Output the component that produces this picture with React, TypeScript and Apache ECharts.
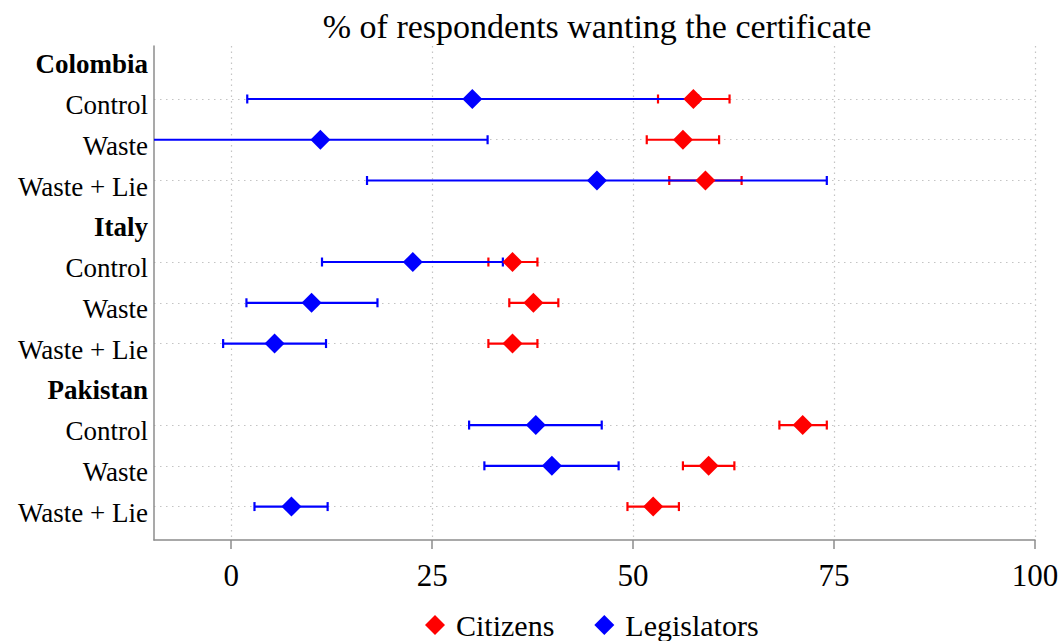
import React, { useEffect, useRef } from "react";
import * as echarts from "echarts";

// Row labels, top to bottom (country headers + treatment arms)
const rowLabels = [
  "Colombia", "Control", "Waste", "Waste + Lie",
  "Italy", "Control", "Waste", "Waste + Lie",
  "Pakistan", "Control", "Waste", "Waste + Lie",
];
const headerRows = [0, 4, 8];
const itemRows = [1, 2, 3, 5, 6, 7, 9, 10, 11];

// Citizens: point estimate and 95% CI bounds (per item row)
const citizensMean = [57.5, 56.2, 59.0, 35.0, 37.6, 35.0, 71.1, 59.4, 52.5];
const citizensLow = [53.1, 51.7, 54.5, 32.0, 34.6, 32.0, 68.2, 56.2, 49.3];
const citizensHigh = [62.0, 60.7, 63.5, 38.1, 40.7, 38.1, 74.1, 62.6, 55.7];

// Legislators: point estimate and 95% CI bounds (per item row)
const legislatorsMean = [30.0, 11.1, 45.5, 22.6, 10.0, 5.4, 37.9, 39.9, 7.5];
const legislatorsLow = [2.0, -9.9, 16.9, 11.3, 1.9, -1.0, 29.6, 31.5, 2.9];
const legislatorsHigh = [58.1, 31.9, 74.1, 33.8, 18.2, 11.8, 46.1, 48.2, 12.0];

const xTicks = [0, 25, 50, 75, 100];

const FONT = "'Liberation Serif', 'DejaVu Serif', serif";
const RED = "#ff0000";
const BLUE = "#0000ff";

function errorBarSeries(name: string, color: string, low: number[], high: number[]) {
  const data = itemRows.map((r, i) => [low[i], high[i], r]);
  return {
    name: name + " CI",
    type: "custom",
    data,
    encode: { x: [0, 1], y: 2 },
    renderItem: (params: any, api: any) => {
      const y = api.value(2);
      const p0 = api.coord([api.value(0), y]);
      const p1 = api.coord([api.value(1), y]);
      const left = params.coordSys.x;
      const right = params.coordSys.x + params.coordSys.width;
      const capH = 4.5;
      const children: any[] = [];
      const x0 = Math.max(p0[0], left);
      const x1 = Math.min(p1[0], right);
      children.push({
        type: "line",
        shape: { x1: x0, y1: p0[1], x2: x1, y2: p1[1] },
        style: { stroke: color, lineWidth: 2.2 },
      });
      if (p0[0] >= left) {
        children.push({
          type: "line",
          shape: { x1: p0[0], y1: p0[1] - capH, x2: p0[0], y2: p0[1] + capH },
          style: { stroke: color, lineWidth: 2.2 },
        });
      }
      if (p1[0] <= right) {
        children.push({
          type: "line",
          shape: { x1: p1[0], y1: p1[1] - capH, x2: p1[0], y2: p1[1] + capH },
          style: { stroke: color, lineWidth: 2.2 },
        });
      }
      return { type: "group", children };
    },
    silent: true,
    z: 2,
  };
}

function pointSeries(name: string, color: string, mean: number[]) {
  return {
    name,
    type: "scatter",
    data: itemRows.map((r, i) => [mean[i], r]),
    symbol: "diamond",
    symbolSize: [20, 20],
    itemStyle: { color, opacity: 1 },
    z: 3,
  };
}

export default function App() {
  const ref = useRef<HTMLDivElement>(null);

  useEffect(() => {
    if (!ref.current) return;
    const chart = echarts.init(ref.current, null, { renderer: "svg" });
    chart.setOption({
      animation: false,
      backgroundColor: "#ffffff",
      textStyle: { fontFamily: FONT },
      title: {
        text: "% of respondents wanting the certificate",
        left: 592,
        top: 4,
        textAlign: "center",
        textStyle: { fontFamily: FONT, fontSize: 34, fontWeight: "normal", color: "#000" },
      },
      legend: {
        left: 420,
        top: 605,
        orient: "horizontal",
        itemWidth: 20,
        itemHeight: 20,
        itemGap: 40,
        data: [
          { name: "Citizens", icon: "diamond" },
          { name: "Legislators", icon: "diamond" },
        ],
        textStyle: { fontFamily: FONT, fontSize: 30, color: "#000", padding: [0, 0, 0, 6] },
      },
      grid: { left: 154, right: 27, top: 46, bottom: 101, containLabel: false },
      xAxis: {
        type: "value",
        min: -9.6,
        max: 100,
        axisLine: { show: true, onZero: false, lineStyle: { color: "#8c8c8c", width: 1.5 } },
        axisTick: {
          show: true,
          length: 9,
          customValues: xTicks,
          lineStyle: { color: "#8c8c8c", width: 1.5 },
        },
        axisLabel: {
          customValues: xTicks,
          margin: 20,
          fontFamily: FONT,
          fontSize: 31,
          color: "#000",
        },
        splitLine: {
          show: true,
          lineStyle: { color: "#c4c4c4", width: 1.2, type: [1.5, 4] },
        },
      },
      yAxis: {
        type: "value",
        inverse: true,
        min: -0.3,
        max: 11.82,
        axisLine: { show: true, onZero: false, lineStyle: { color: "#8c8c8c", width: 1.5 } },
        axisTick: { show: false, customValues: itemRows },
        axisLabel: {
          customValues: rowLabels.map((_, i) => i),
          margin: 6,
          padding: [12, 0, 0, 0],
          fontFamily: FONT,
          fontSize: 27,
          color: "#000",
          formatter: (v: number) => {
            const idx = Math.round(v);
            const txt = rowLabels[idx] ?? "";
            return headerRows.includes(idx) ? "{h|" + txt + "}" : txt;
          },
          rich: {
            h: { fontFamily: FONT, fontSize: 27, fontWeight: "bold", color: "#000" },
          },
        },
        splitLine: {
          show: true,
          lineStyle: { color: "#c4c4c4", width: 1.2, type: [1.5, 4.5] },
        },
      },
      series: [
        errorBarSeries("Citizens", RED, citizensLow, citizensHigh),
        pointSeries("Citizens", RED, citizensMean),
        errorBarSeries("Legislators", BLUE, legislatorsLow, legislatorsHigh),
        pointSeries("Legislators", BLUE, legislatorsMean),
      ],
    });
    return () => chart.dispose();
  }, []);

  return (
    <div
      ref={ref}
      style={{ position: "fixed", left: 0, top: 0, width: 1062, height: 641 }}
    />
  );
}
